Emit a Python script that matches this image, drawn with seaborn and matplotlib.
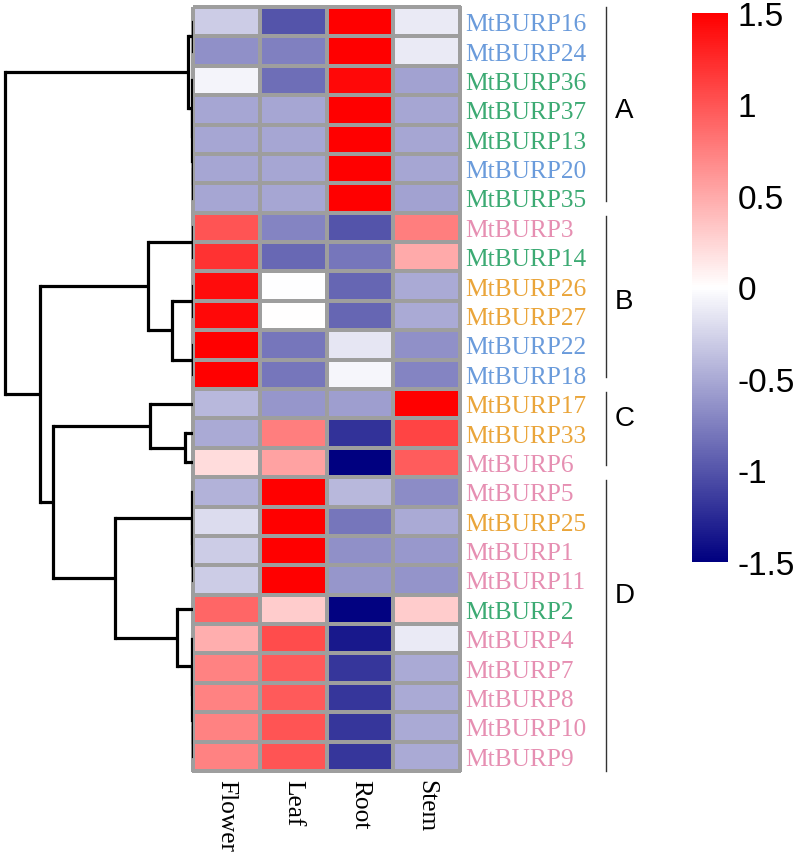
import numpy as np
import pandas as pd
import matplotlib.pyplot as plt
import seaborn as sns
from matplotlib.colors import LinearSegmentedColormap

# genes in dendrogram order (top to bottom)
genes = ["MtBURP16", "MtBURP24", "MtBURP36", "MtBURP37", "MtBURP13", "MtBURP20", "MtBURP35",
         "MtBURP3", "MtBURP14", "MtBURP26", "MtBURP27", "MtBURP22", "MtBURP18",
         "MtBURP17", "MtBURP33", "MtBURP6",
         "MtBURP5", "MtBURP25", "MtBURP1", "MtBURP11", "MtBURP2", "MtBURP4",
         "MtBURP7", "MtBURP8", "MtBURP10", "MtBURP9"]
tissues = ["Flower", "Leaf", "Root", "Stem"]

# z-scores
flower = [-0.3, -0.65, -0.06, -0.52, -0.52, -0.52, -0.52,
          1.0, 1.2, 1.42, 1.45, 1.5, 1.5,
          -0.42, -0.5, 0.2,
          -0.45, -0.2, -0.3, -0.3, 0.9, 0.47,
          0.73, 0.73, 0.73, 0.73]
leaf = [-1.0, -0.75, -0.85, -0.52, -0.52, -0.52, -0.52,
        -0.72, -0.88, -0.01, 0.0, -0.8, -0.8,
        -0.62, 0.75, 0.55,
        1.5, 1.5, 1.5, 1.5, 0.3, 1.05,
        0.97, 0.97, 1.0, 1.0]
root = [1.5, 1.5, 1.45, 1.5, 1.5, 1.5, 1.5,
        -1.0, -0.8, -0.9, -0.9, -0.15, -0.05,
        -0.57, -1.2, -1.5,
        -0.42, -0.8, -0.65, -0.62, -1.48, -1.35,
        -1.18, -1.18, -1.18, -1.18]
stem = [-0.12, -0.12, -0.55, -0.52, -0.52, -0.52, -0.55,
        0.75, 0.5, -0.5, -0.5, -0.65, -0.72,
        1.5, 1.1, 0.95,
        -0.67, -0.5, -0.6, -0.63, 0.3, -0.12,
        -0.5, -0.5, -0.5, -0.5]

blue, green, orange, pink = "#6A9BDB", "#3CAA73", "#EAA53A", "#E68FB2"
label_colors = [blue, blue, green, green, green, blue, green,
                pink, green, orange, orange, blue, blue,
                orange, orange, pink,
                pink, orange, pink, pink, green, pink,
                pink, pink, pink, pink]

groups = ["A", "B", "C", "D"]
group_sizes = [7, 6, 3, 10]
group_label_rows = [3.5, 10.0, 14.0, 20.0]

cbar_ticks = [1.5, 1, 0.5, 0, -0.5, -1, -1.5]
cbar_labels = ["1.5", "1", "0.5", "0", "-0.5", "-1", "-1.5"]

# arbre (gauche, droite, hauteur)
tree_A = (("MtBURP16", "MtBURP24", 0.3),
          ("MtBURP36", ("MtBURP37", ("MtBURP13", ("MtBURP20", "MtBURP35", 0.2), 0.4), 0.6), 1.0), 5)
tree_B = (("MtBURP3", "MtBURP14", 0.5),
          (("MtBURP26", "MtBURP27", 0.3), ("MtBURP22", "MtBURP18", 0.5), 21), 45)
tree_C = ("MtBURP17", ("MtBURP33", "MtBURP6", 8), 43)
tree_D = (("MtBURP5", ("MtBURP25", ("MtBURP1", "MtBURP11", 0.3), 0.6), 1.0),
          ("MtBURP2", ("MtBURP4", ("MtBURP7", ("MtBURP8", ("MtBURP10", "MtBURP9", 0.2), 0.4), 0.6), 1.0), 16), 78)
tree = (tree_A, (tree_B, (tree_C, tree_D, 140), 153), 188)

df = pd.DataFrame({"Flower": flower, "Leaf": leaf, "Root": root, "Stem": stem}, index=genes)
cmap = LinearSegmentedColormap.from_list("nwr", ["#000080", "#FFFFFF", "#FF0000"])

fig = plt.figure(figsize=(8, 8.53), dpi=100)
ax = fig.add_axes([0.24125, 0.09496, 0.33375, 0.8957])
cax = fig.add_axes([0.865, 0.34, 0.045, 0.6436])
dax = fig.add_axes([0.0, 0.09496, 0.24125, 0.8957])

sns.heatmap(df, ax=ax, cmap=cmap, vmin=-1.5, vmax=1.5, linewidths=1.6,
            linecolor="#9E9E9E", cbar_ax=cax)
ax.collections[0].set_clip_on(False)

# étiquettes des lignes à droite
ax.yaxis.tick_right()
ax.set_yticklabels(genes, rotation=0, fontfamily="Liberation Serif", fontsize=18.3)
for t, c in zip(ax.get_yticklabels(), label_colors):
    t.set_color(c)
ax.set_xticklabels(tissues, rotation=270, fontfamily="Liberation Serif", fontsize=18.3)
ax.tick_params(axis="y", length=0, pad=4)
ax.tick_params(axis="x", length=0, pad=6)
ax.set_xlabel("")
ax.set_ylabel("")

# groupes A-D
start = 0
for i, (g, n) in enumerate(zip(groups, group_sizes)):
    y0 = start + (0.1 if i > 0 else 0)
    y1 = start + n - (0.4 if i < len(groups) - 1 else 0)
    ax.plot([6.19, 6.19], [y0, y1], color="#333333", lw=1, clip_on=False)
    ax.text(6.32, group_label_rows[i], g, fontfamily="Liberation Sans", fontsize=20,
            ha="left", va="center", clip_on=False)
    start += n

# dendrogramme
row_pos = {g: i + 0.5 for i, g in enumerate(genes)}


def draw(node):
    if isinstance(node, str):
        return row_pos[node], 0
    left, right, h = node
    yl, hl = draw(left)
    yr, hr = draw(right)
    dax.plot([hl, h], [yl, yl], color="black", lw=2.3, solid_capstyle="butt")
    dax.plot([hr, h], [yr, yr], color="black", lw=2.3, solid_capstyle="butt")
    dax.plot([h, h], [yl, yr], color="black", lw=2.3, solid_capstyle="projecting")
    return (yl + yr) / 2, h


draw(tree)
dax.set_xlim(193, 0)
dax.set_ylim(len(genes), 0)
dax.axis("off")

# barre de couleur
cbar = ax.collections[0].colorbar
cbar.set_ticks(cbar_ticks)
cbar.set_ticklabels(cbar_labels)
cbar.outline.set_visible(False)
cax.tick_params(length=0, pad=7, labelsize=24)
for t in cax.get_yticklabels():
    t.set_fontfamily("Liberation Sans")

fig.savefig("out.png", dpi=100)
